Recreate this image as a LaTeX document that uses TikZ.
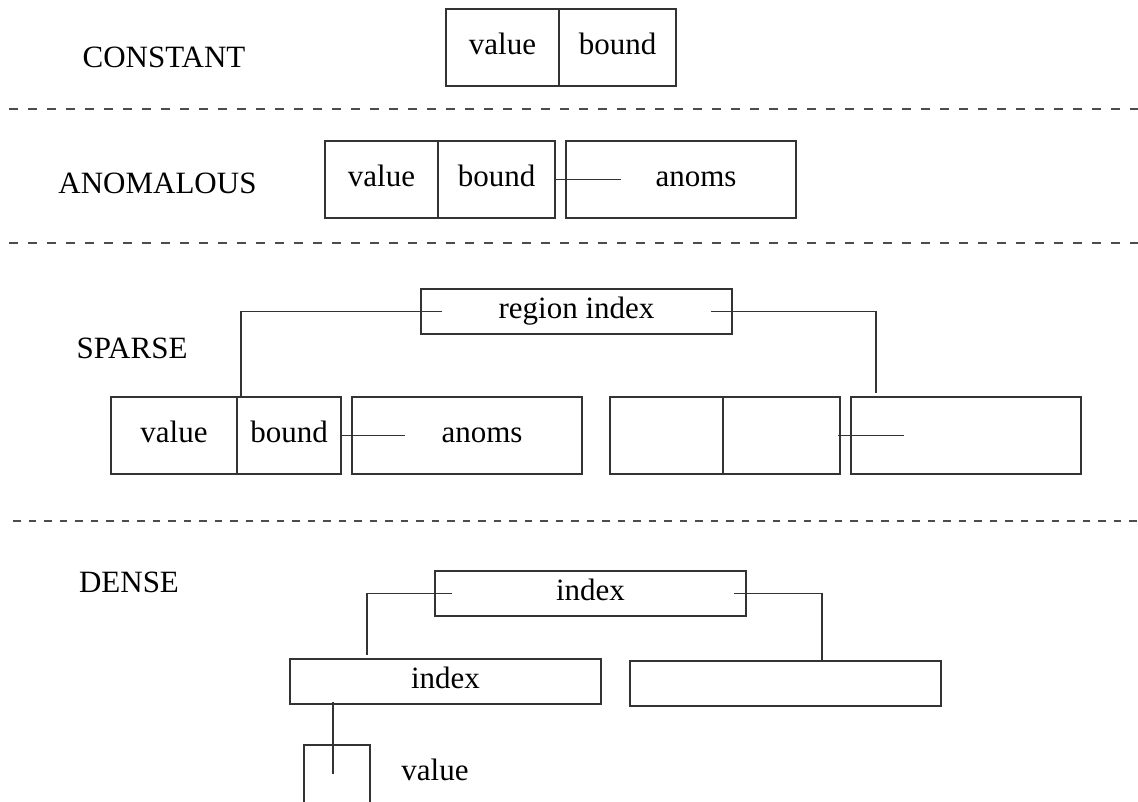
\documentclass[tikz,border=0pt]{standalone}
\usepackage{fontspec}
\setmainfont{Liberation Serif}
\usetikzlibrary{positioning}

\begin{document}
\begin{tikzpicture}[
  x=1pt, y=-1pt,
  line width=1.5pt,
  every node/.style={font=\fontsize{31}{36}\selectfont},
  cell/.style={draw=black!80, outer sep=0pt, inner sep=0pt, minimum height=77pt, text height=22pt, text depth=8pt},
  slim/.style={cell, minimum height=45pt, minimum width=311pt},
  link/.style={draw=black!80},
  sep/.style={draw=black!70, dash pattern=on 9pt off 10pt}
]
\useasboundingbox (0,0) rectangle (1138,802);

\node (lc) at (164,57) {CONSTANT};
\node (la) at (157.5,183) {ANOMALOUS};
\node (ls) at (132,348) {SPARSE};
\node (ld) at (129,582) {DENSE};

\draw[sep] (9,109) -- (1138,109);
\draw[sep] (9,243) -- (1138,243);
\draw[sep, dash pattern=on 7.5pt off 8pt] (13,521) -- (1138,521);

\node[cell, minimum width=113pt, anchor=north west] (cv) at (446,9) {value};
\node[cell, minimum width=117pt, right=0pt of cv] (cb) {bound};

\node[cell, minimum width=113pt, anchor=north west] (av) at (325,141) {value};
\node[cell, minimum width=117pt, right=0pt of av] (ab) {bound};
\node[cell, minimum width=230pt, right=11pt of ab] (aa) {\hspace*{30pt}anoms};
\draw[link] (ab.east) -- ([xshift=55pt]aa.west);

\node[slim, anchor=north west] (sr) at (421,289) {region index};
\node[cell, minimum width=126pt, anchor=north west] (sv) at (111,397) {value};
\node[cell, minimum width=104pt, right=0pt of sv] (sb) {bound};
\node[cell, minimum width=230pt, right=11pt of sb] (sa) {\hspace*{30pt}anoms};
\node[cell, minimum width=113pt, right=28pt of sa] (sv2) {};
\node[cell, minimum width=117pt, right=0pt of sv2] (sb2) {};
\node[cell, minimum width=230pt, right=11pt of sb2] (sa2) {};

\draw[link] ([xshift=21pt]sr.west) -| ([xshift=4pt]sb.north west);
\draw[link] ([xshift=-21pt]sr.east) -| ([xshift=25pt,yshift=4pt]sa2.north west);
\draw[link] (sb.east) -- ([xshift=53pt]sa.west);
\draw[link] ([xshift=-2pt]sb2.east) -- ([xshift=53pt]sa2.west);

\node[slim, anchor=north west] (dt) at (435,571) {index};
\node[slim, anchor=north west] (di) at (290,659) {index};
\node[slim, anchor=north west] (db) at (630,661) {};
\coordinate (vt) at (333,774);
\node[anchor=base] (vl) at (435,780) {value};

\draw[link] ([xshift=17pt]dt.west) -| ([xshift=77pt,yshift=4pt]di.north west);
\draw[link] ([xshift=-12pt]dt.east) -| ([xshift=192pt]db.north west);
\draw[link] ([xshift=43pt,yshift=2pt]di.south west) -- (vt);

% open cell below the inner index
\draw[link] (304,802) |- (370,745) -- (370,802);
\end{tikzpicture}
\end{document}
